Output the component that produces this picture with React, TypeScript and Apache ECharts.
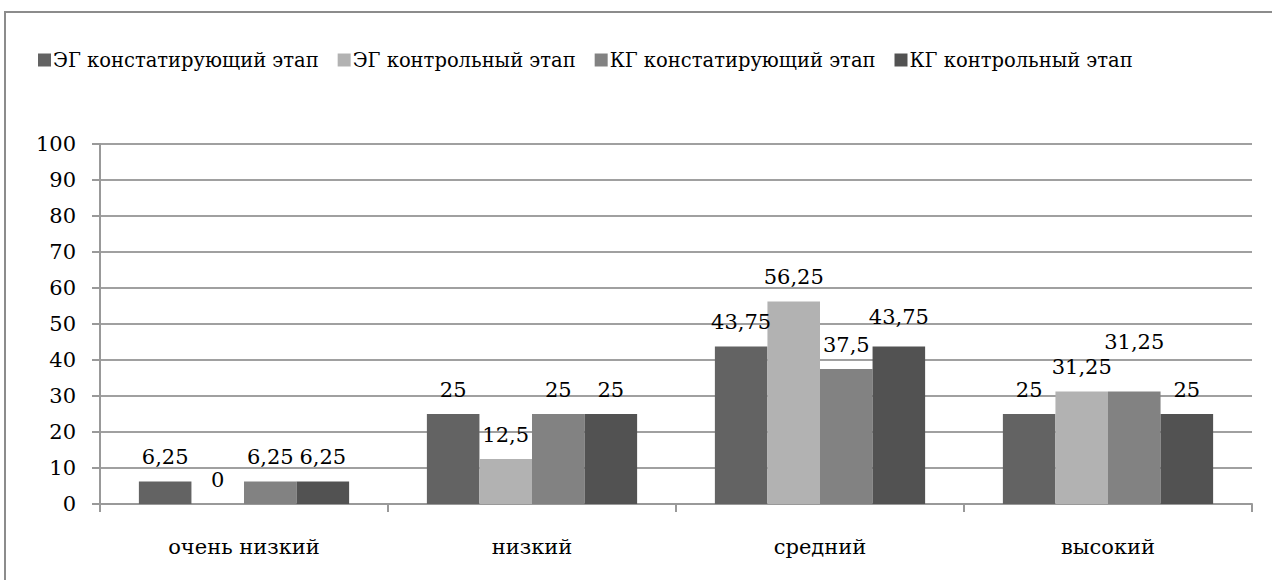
import React, { useEffect, useRef } from "react";
import * as echarts from "echarts";

const categories = ["очень низкий", "низкий", "средний", "высокий"];
const seriesNames = [
  "ЭГ констатирующий этап",
  "ЭГ контрольный этап",
  "КГ констатирующий этап",
  "КГ контрольный этап",
];
const egStart = [6.25, 25, 43.75, 25];
const egEnd = [0, 12.5, 56.25, 31.25];
const kgStart = [6.25, 25, 37.5, 31.25];
const kgEnd = [6.25, 25, 43.75, 25];
const colors = ["#636363", "#b2b2b2", "#828282", "#525252"];

const FONT = "DejaVu Serif";
const FS = 21;
const LEG_FS = 19.5;

export default function App() {
  const ref = useRef<HTMLDivElement>(null);
  useEffect(() => {
    if (!ref.current) return;
    const chart = echarts.init(ref.current, undefined, { renderer: "svg" });
    const fmt = (p: any) => String(p.value).replace(".", ",");
    const mk = (name: string, data: number[], color: string, offsets: Record<number, number[]> = {}) => ({
      name,
      type: "bar",
      barGap: "0%",
      barCategoryGap: "27%",
      itemStyle: { color },
      data: data.map((v, i) =>
        offsets[i] ? { value: v, label: { offset: offsets[i] } } : v
      ),
      label: {
        show: true,
        position: "top",
        distance: 14,
        formatter: fmt,
        color: "#000",
        fontFamily: FONT,
        fontSize: FS,
      },
    });
    chart.setOption({
      animation: false,
      backgroundColor: "#fff",
      textStyle: { fontFamily: FONT, fontSize: FS },
      graphic: [
        {
          type: "rect",
          shape: { x: 5, y: 12, width: 1320, height: 620 },
          style: { fill: "none", stroke: "#8c8c8c", lineWidth: 2 },
          silent: true,
        },
      ],
      legend: {
        top: 45,
        left: 33,
        itemWidth: 13,
        itemHeight: 13,
        itemGap: 19,
        icon: "rect",
        textStyle: { fontFamily: FONT, fontSize: LEG_FS, color: "#000", padding: [0, 0, 0, -3] },
        data: seriesNames,
      },
      grid: { left: 100, right: 20, top: 144, bottom: 76, containLabel: false },
      xAxis: {
        type: "category",
        data: categories,
        axisLine: { lineStyle: { color: "#999", width: 2 } },
        axisTick: { show: true, length: 8, lineStyle: { color: "#999", width: 2 } },
        axisLabel: { fontFamily: FONT, fontSize: FS, color: "#000", margin: 32 },
      },
      yAxis: {
        type: "value",
        min: 0,
        max: 100,
        interval: 10,
        axisLine: { show: true, lineStyle: { color: "#999", width: 2 } },
        axisTick: { show: true, length: 8, lineStyle: { color: "#999", width: 2 } },
        splitLine: { lineStyle: { color: "#a0a0a0", width: 2 } },
        axisLabel: { fontFamily: FONT, fontSize: FS, color: "#000", margin: 24 },
      },
      series: [
        mk(seriesNames[0], egStart, colors[0]),
        mk(seriesNames[1], egEnd, colors[1]),
        mk(seriesNames[2], kgStart, colors[2], { 3: [0, -25] }),
        mk(seriesNames[3], kgEnd, colors[3], { 2: [0, -5] }),
      ],
    });
    return () => chart.dispose();
  }, []);
  return (
    <div
      ref={ref}
      style={{ position: "absolute", left: 0, top: 0, width: 1272, height: 580 }}
    />
  );
}
